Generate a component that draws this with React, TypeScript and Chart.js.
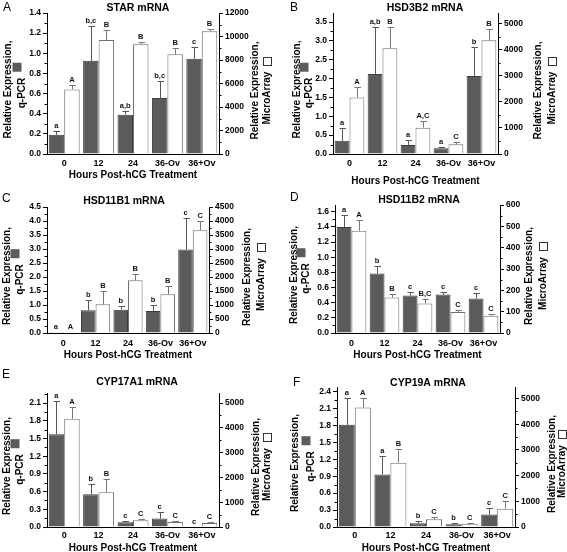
import React, { useEffect, useRef } from 'react';
import { Chart, registerables } from 'chart.js';

Chart.register(...registerables);

// ---------- data ----------
const CATEGORIES = ['0', '12', '24', '36-Ov', '36+Ov'];

// A: STAR
const STAR_QPCR = [0.19, 0.925, 0.39, 0.555, 0.945];
const STAR_QPCR_ERR = [0.04, 0.345, 0.04, 0.165, 0.115];
const STAR_MA = [5500, 9700, 9350, 8500, 10450];
const STAR_MA_ERR = [385, 880, 200, 510, 200];
const STAR_QPCR_LETTERS = ['a', 'b,c', 'a,b', 'b,c', 'c'];
const STAR_MA_LETTERS = ['A', 'B', 'B', 'B', 'B'];

// B: HSD3B2
const HSD3B2_QPCR = [0.35, 2.12, 0.24, 0.15, 2.07];
const HSD3B2_QPCR_ERR = [0.35, 1.24, 0.13, 0.04, 0.76];
const HSD3B2_MA = [2170, 4060, 1010, 370, 4360];
const HSD3B2_MA_ERR = [400, 830, 270, 80, 440];
const HSD3B2_QPCR_LETTERS = ['a', 'a,b', 'a', 'a', 'b'];
const HSD3B2_MA_LETTERS = ['A', 'B', 'A,C', 'C', 'B'];

// C: HSD11B1
const HSD11B1_QPCR = [0.03, 0.81, 0.83, 0.79, 2.98];
const HSD11B1_QPCR_ERR = [0, 0.36, 0.12, 0.22, 1.14];
const HSD11B1_MA = [30, 1025, 1880, 1380, 3670];
const HSD11B1_MA_ERR = [0, 465, 240, 290, 320];
const HSD11B1_QPCR_LETTERS = ['a', 'b', 'b', 'b', 'c'];
const HSD11B1_MA_LETTERS = ['A', 'B', 'B', 'B', 'C'];

// D: HSD11B2
const HSD11B2_QPCR = [1.4, 0.785, 0.494, 0.507, 0.454];
const HSD11B2_QPCR_ERR = [0.156, 0.095, 0.046, 0.033, 0.076];
const HSD11B2_MA = [479, 166, 138, 99, 81];
const HSD11B2_MA_ERR = [50, 19, 23, 7, 10];
const HSD11B2_QPCR_LETTERS = ['a', 'b', 'c', 'c', 'c'];
const HSD11B2_MA_LETTERS = ['A', 'B', 'B,C', 'C', 'C'];

// E: CYP17A1
const CYP17A1_QPCR = [1.57, 0.556, 0.08, 0.142, 0];
const CYP17A1_QPCR_ERR = [0.56, 0.18, 0.02, 0.12, 0];
const CYP17A1_MA = [4365, 1405, 270, 203, 162];
const CYP17A1_MA_ERR = [460, 515, 40, 54, 40];
const CYP17A1_QPCR_LETTERS = ['a', 'b', 'c', 'c', 'c'];
const CYP17A1_MA_LETTERS = ['A', 'B', 'C', 'C', 'C'];

// F: CYP19A
const CYP19A_QPCR = [1.81, 0.93, 0.065, 0.047, 0.22];
const CYP19A_QPCR_ERR = [0.48, 0.33, 0.035, 0.03, 0.12];
const CYP19A_MA = [4650, 2505, 300, 130, 714];
const CYP19A_MA_ERR = [375, 545, 90, 40, 300];
const CYP19A_QPCR_LETTERS = ['a', 'a', 'b', 'b', 'c'];
const CYP19A_MA_LETTERS = ['A', 'B', 'C', 'C', 'C'];

const X_TITLE = 'Hours Post-hCG Treatment';
const LEFT_TITLE = ['Relative Expression,', 'q-PCR'];
const RIGHT_TITLE = ['Relative Expression,', 'MicroArray'];

// ---------- styling / layout ----------
const FONT = '"Liberation Sans", Arial, Helvetica, sans-serif';
const GRAY = '#5b5b5b';

type Cfg = {
  letter: string;
  title: string;
  box: [number, number, number, number];
  plot: { L: number; R: number; T: number; B: number };
  titleXY: [number, number];
  letterXY: [number, number];
  leftCols: [number, number];
  rightCols: [number, number];
  xPad: number;
  xTitleY: number;
  leftMax: number;
  leftStep: number;
  rightMax: number;
  rightStep: number;
  qpcr: number[];
  qpcrErr: number[];
  ma: number[];
  maErr: number[];
  qLetters: string[];
  mLetters: string[];
};

const PANELS: Cfg[] = [
  {
    letter: 'A', title: 'STAR mRNA', box: [0, 0, 283, 186],
    plot: { L: 47, R: 219, T: 13, B: 154 }, titleXY: [138, 8], letterXY: [3, 8],
    leftCols: [8, 22], rightCols: [255, 267], xPad: 4, xTitleY: 175,
    leftMax: 1.4, leftStep: 0.2, rightMax: 12000, rightStep: 2000,
    qpcr: STAR_QPCR, qpcrErr: STAR_QPCR_ERR, ma: STAR_MA, maErr: STAR_MA_ERR,
    qLetters: STAR_QPCR_LETTERS, mLetters: STAR_MA_LETTERS,
  },
  {
    letter: 'B', title: 'HSD3B2 mRNA', box: [283, 0, 284, 186],
    plot: { L: 333, R: 498, T: 13, B: 154 }, titleXY: [425, 8], letterXY: [290, 8],
    leftCols: [297, 309], rightCols: [538, 552], xPad: 4, xTitleY: 181,
    leftMax: 3.74, leftStep: 0.5, rightMax: 5410, rightStep: 1000,
    qpcr: HSD3B2_QPCR, qpcrErr: HSD3B2_QPCR_ERR, ma: HSD3B2_MA, maErr: HSD3B2_MA_ERR,
    qLetters: HSD3B2_QPCR_LETTERS, mLetters: HSD3B2_MA_LETTERS,
  },
  {
    letter: 'C', title: 'HSD11B1 mRNA', box: [0, 186, 283, 180],
    plot: { L: 47, R: 209, T: 207, B: 333 }, titleXY: [124, 201], letterXY: [2, 199],
    leftCols: [7, 20], rightCols: [247, 261], xPad: 5, xTitleY: 355,
    leftMax: 4.5, leftStep: 0.5, rightMax: 4500, rightStep: 500,
    qpcr: HSD11B1_QPCR, qpcrErr: HSD11B1_QPCR_ERR, ma: HSD11B1_MA, maErr: HSD11B1_MA_ERR,
    qLetters: HSD11B1_QPCR_LETTERS, mLetters: HSD11B1_MA_LETTERS,
  },
  {
    letter: 'D', title: 'HSD11B2 mRNA', box: [283, 186, 284, 180],
    plot: { L: 335, R: 500, T: 205, B: 333 }, titleXY: [419, 200], letterXY: [290, 198],
    leftCols: [294, 306], rightCols: [529, 543], xPad: 5, xTitleY: 355,
    leftMax: 1.69, leftStep: 0.2, rightMax: 600, rightStep: 100,
    qpcr: HSD11B2_QPCR, qpcrErr: HSD11B2_QPCR_ERR, ma: HSD11B2_MA, maErr: HSD11B2_MA_ERR,
    qLetters: HSD11B2_QPCR_LETTERS, mLetters: HSD11B2_MA_LETTERS,
  },
  {
    letter: 'E', title: 'CYP17A1 mRNA', box: [0, 366, 283, 186],
    plot: { L: 47, R: 219, T: 393, B: 527 }, titleXY: [137, 382], letterXY: [2, 375],
    leftCols: [7, 20], rightCols: [256, 267], xPad: 3, xTitleY: 548,
    leftMax: 2.27, leftStep: 0.3, rightMax: 5405, rightStep: 1000,
    qpcr: CYP17A1_QPCR, qpcrErr: CYP17A1_QPCR_ERR, ma: CYP17A1_MA, maErr: CYP17A1_MA_ERR,
    qLetters: CYP17A1_QPCR_LETTERS, mLetters: CYP17A1_MA_LETTERS,
  },
  {
    letter: 'F', title: 'CYP19A mRNA', box: [283, 366, 284, 186],
    plot: { L: 337, R: 515, T: 387, B: 527 }, titleXY: [428, 383], letterXY: [293, 383],
    leftCols: [295, 311], rightCols: [552, 562], xPad: 3, xTitleY: 548,
    leftMax: 2.48, leftStep: 0.3, rightMax: 5450, rightStep: 1000,
    qpcr: CYP19A_QPCR, qpcrErr: CYP19A_QPCR_ERR, ma: CYP19A_MA, maErr: CYP19A_MA_ERR,
    qLetters: CYP19A_QPCR_LETTERS, mLetters: CYP19A_MA_LETTERS,
  },
];

function decorPlugin(cfg: Cfg) {
  const [bx, by] = cfg.box;
  const X = (v: number) => v - bx;
  const Y = (v: number) => v - by;
  return {
    id: 'decor' + cfg.letter,
    afterDraw(chart: any) {
      const ctx: CanvasRenderingContext2D = chart.ctx;
      const area = chart.chartArea;
      ctx.save();
      ctx.fillStyle = '#000';
      ctx.strokeStyle = '#000';

      // panel letter
      ctx.font = `12px ${FONT}`;
      ctx.textAlign = 'left';
      ctx.textBaseline = 'middle';
      ctx.fillText(cfg.letter, X(cfg.letterXY[0]), Y(cfg.letterXY[1]));

      // title
      ctx.font = `bold 10.5px ${FONT}`;
      ctx.textAlign = 'center';
      ctx.fillText(cfg.title, X(cfg.titleXY[0]), Y(cfg.titleXY[1]));

      // x title
      ctx.font = `bold 10px ${FONT}`;
      ctx.fillText(X_TITLE, (area.left + area.right) / 2, Y(cfg.xTitleY));

      // y titles
      const cy = (area.top + area.bottom) / 2;
      const drawRot = (txt: string, x: number, y: number) => {
        ctx.save();
        ctx.translate(x, y);
        ctx.rotate(-Math.PI / 2);
        ctx.textAlign = 'center';
        ctx.textBaseline = 'middle';
        ctx.fillText(txt, 0, 0);
        ctx.restore();
      };
      const sw = 9;
      const gap = 6;
      // left
      drawRot(LEFT_TITLE[0], X(cfg.leftCols[0]), cy + 6);
      {
        const w2 = ctx.measureText(LEFT_TITLE[1]).width;
        const len = w2 + gap + sw;
        const gc = cy + 2;
        const bottom = gc + len / 2;
        drawRot(LEFT_TITLE[1], X(cfg.leftCols[1]), bottom - w2 / 2);
        const sx = X(cfg.leftCols[1]) - 5;
        ctx.fillStyle = GRAY;
        ctx.fillRect(sx - sw / 2, gc - len / 2, sw, sw);
        ctx.fillStyle = '#000';
      }
      // right
      drawRot(RIGHT_TITLE[0], X(cfg.rightCols[0]), cy + 7);
      {
        const w2 = ctx.measureText(RIGHT_TITLE[1]).width;
        const len = w2 + gap + sw;
        const gc = cy + 7;
        const bottom = gc + len / 2;
        drawRot(RIGHT_TITLE[1], X(cfg.rightCols[1]), bottom - w2 / 2);
        const sx = X(cfg.rightCols[1]);
        ctx.fillStyle = '#fff';
        ctx.fillRect(sx - sw / 2, gc - len / 2, sw, sw);
        ctx.lineWidth = 1;
        ctx.strokeStyle = '#333';
        ctx.strokeRect(Math.round(sx - sw / 2) + 0.5, Math.round(gc - len / 2) + 0.5, sw - 1, sw - 1);
        ctx.fillStyle = '#000';
      }

      // minor ticks
      ctx.strokeStyle = '#000';
      ctx.lineWidth = 1;
      const minor = (scaleId: string, step: number, max: number, left: boolean) => {
        const s = chart.scales[scaleId];
        const xEdge = left ? area.left : area.right;
        for (let v = step / 2; v <= max + 1e-9; v += step) {
          const py = Math.round(s.getPixelForValue(v)) + 0.5;
          ctx.beginPath();
          ctx.moveTo(xEdge, py);
          ctx.lineTo(left ? xEdge - 2.5 : xEdge + 2.5, py);
          ctx.stroke();
        }
      };
      minor('y', cfg.leftStep, cfg.leftMax, true);
      minor('y1', cfg.rightStep, cfg.rightMax, false);

      // error bars + letters
      const drawErr = (dsIndex: number, vals: number[], errs: number[], letters: string[], scaleId: string, color: string) => {
        const meta = chart.getDatasetMeta(dsIndex);
        const s = chart.scales[scaleId];
        meta.data.forEach((bar: any, j: number) => {
          const x = Math.round(bar.x) + 0.5;
          const yv = s.getPixelForValue(vals[j]);
          const yt = s.getPixelForValue(vals[j] + errs[j]);
          if (errs[j] > 0) {
            ctx.strokeStyle = color;
            ctx.lineWidth = 1;
            ctx.beginPath();
            ctx.moveTo(x, yv);
            ctx.lineTo(x, Math.round(yt) + 0.5);
            ctx.moveTo(x - 3, Math.round(yt) + 0.5);
            ctx.lineTo(x + 3.5, Math.round(yt) + 0.5);
            ctx.stroke();
          }
          ctx.fillStyle = '#111';
          ctx.font = `bold 7.5px ${FONT}`;
          ctx.textAlign = 'center';
          ctx.textBaseline = 'alphabetic';
          ctx.fillText(letters[j], bar.x, Math.min(yt, yv) - 3);
        });
      };
      drawErr(0, cfg.qpcr, cfg.qpcrErr, cfg.qLetters, 'y', '#555');
      drawErr(1, cfg.ma, cfg.maErr, cfg.mLetters, 'y1', '#777');

      ctx.restore();
    },
  };
}

function stepTicks(step: number, max: number) {
  const out: { value: number }[] = [];
  const n = Math.floor(max / step + 1e-9);
  for (let i = 0; i <= n; i++) out.push({ value: Math.round(i * step * 1000) / 1000 });
  return out;
}

function Panel({ cfg }: { cfg: Cfg }) {
  const ref = useRef<HTMLCanvasElement>(null);
  useEffect(() => {
    const [bx, by, bw, bh] = cfg.box;
    const tickFont = { family: FONT, size: 8.5, weight: 'bold' as const };
    const chart = new Chart(ref.current as HTMLCanvasElement, {
      type: 'bar',
      data: {
        labels: CATEGORIES,
        datasets: [
          {
            label: 'q-PCR', data: cfg.qpcr, yAxisID: 'y',
            backgroundColor: GRAY, borderColor: '#3c3c3c', borderWidth: 1,
            categoryPercentage: 0.9, barPercentage: 1,
          },
          {
            label: 'MicroArray', data: cfg.ma, yAxisID: 'y1',
            backgroundColor: '#ffffff', borderColor: '#6e6e6e', borderWidth: 1,
            categoryPercentage: 0.9, barPercentage: 1,
          },
        ],
      },
      options: {
        responsive: false,
        animation: false,
        devicePixelRatio: 1,
        layout: { padding: { top: cfg.plot.T - by, left: 0, right: 0, bottom: 0 } },
        plugins: { legend: { display: false }, tooltip: { enabled: false }, title: { display: false } },
        scales: {
          x: {
            grid: { display: false, drawTicks: false },
            border: { display: true, color: '#000', width: 1 },
            ticks: { font: { family: FONT, size: 9, weight: 'bold' }, color: '#000', padding: cfg.xPad, maxRotation: 0, autoSkip: false },
            afterFit: (s: any) => { s.height = by + bh - cfg.plot.B; },
          },
          y: {
            position: 'left', min: 0, max: cfg.leftMax,
            ticks: {
              font: tickFont, color: '#000', padding: 2, autoSkip: false,
              callback: (v: any) => Number(v).toFixed(1),
            },
            afterBuildTicks: (s: any) => { s.ticks = stepTicks(cfg.leftStep, cfg.leftMax); },
            grid: { drawOnChartArea: false, drawTicks: true, tickLength: 4, color: '#000' },
            border: { display: true, color: '#000', width: 1 },
            afterFit: (s: any) => { s.width = cfg.plot.L - bx; },
          },
          y1: {
            position: 'right', min: 0, max: cfg.rightMax,
            ticks: {
              font: tickFont, color: '#000', padding: 2, autoSkip: false,
              callback: (v: any) => String(Math.round(Number(v))),
            },
            afterBuildTicks: (s: any) => { s.ticks = stepTicks(cfg.rightStep, cfg.rightMax); },
            grid: { drawOnChartArea: false, drawTicks: true, tickLength: 4, color: '#000' },
            border: { display: true, color: '#000', width: 1 },
            afterFit: (s: any) => { s.width = bx + bw - cfg.plot.R; },
          },
        },
      } as any,
      plugins: [decorPlugin(cfg)],
    });
    return () => chart.destroy();
  }, [cfg]);
  const [bx, by, bw, bh] = cfg.box;
  return (
    <canvas
      ref={ref}
      width={bw}
      height={bh}
      style={{ position: 'absolute', left: bx, top: by, width: bw, height: bh }}
    />
  );
}

export default function App() {
  return (
    <div style={{ position: 'fixed', left: 0, top: 0, width: 567, height: 552, background: '#fff', overflow: 'hidden' }}>
      {PANELS.map((p) => (
        <Panel key={p.letter} cfg={p} />
      ))}
    </div>
  );
}
